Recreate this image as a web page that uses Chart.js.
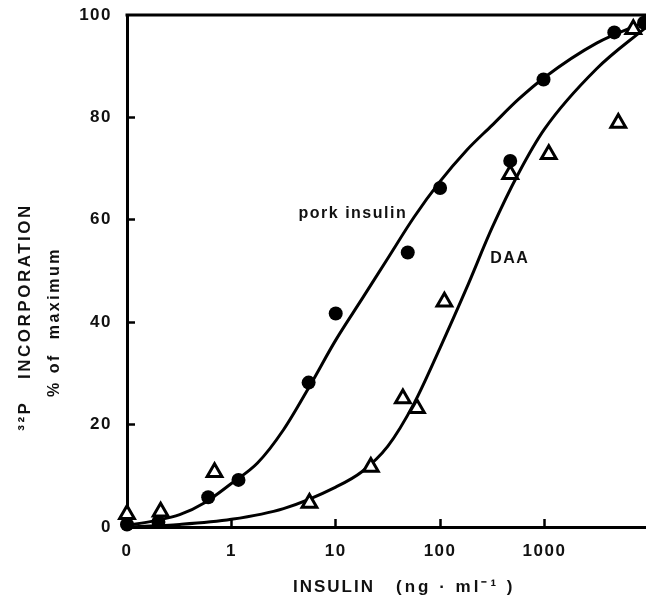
<!DOCTYPE html>
<html>
<head>
<meta charset="utf-8">
<script src="https://cdn.jsdelivr.net/npm/chart.js@4.4.1/dist/chart.umd.min.js"></script>
<style>
    html, body { margin: 0; padding: 0; background: #fff; overflow: hidden; }
    #wrap { width: 646px; height: 597px; position: relative; }
</style>
</head>
<body>
<div id="wrap"><canvas id="chart_insulin"></canvas></div>
<script>
// measured points (x in ng/ml, 0 plotted at 0.1)
var porkX = [0.1, 0.2, 0.6, 1.17, 5.5, 10, 49, 100, 470, 980, 4670, 9000];
var porkY = [0.5, 1.0, 5.8, 9.2, 28.2, 41.7, 53.6, 66.2, 71.5, 87.4, 96.6, 98.5];

var daaX = [0.1, 0.21, 0.69, 5.6, 21.7, 44, 60, 110, 470, 1100, 5100, 7100];
var daaY = [2.5, 3.0, 10.7, 4.7, 11.7, 25.1, 23.2, 44.0, 68.9, 72.8, 78.9, 97.2];

// fitted curves as drawn in the figure, read at quarter decades
var porkCurveX = [0.1, 0.18, 0.32, 0.56, 1, 1.78, 3.16, 5.62, 10, 17.8, 31.6, 56.2, 100, 178, 316, 562, 1000, 3162, 9400];
var porkCurveY = [0.3, 1.2, 2.4, 4.8, 8.5, 12.5, 19.0, 27.5, 36.5, 44.5, 52.5, 60.5, 67.5, 73.5, 78.5, 83.5, 87.8, 94.5, 98.7];

var daaCurveX = [0.1, 0.32, 1, 3.16, 10, 17.8, 31.6, 56.2, 100, 178, 316, 562, 1000, 3162, 9400];
var daaCurveY = [0.0, 0.5, 1.5, 3.6, 7.8, 10.8, 15.8, 24.1, 35.0, 46.5, 58.5, 69.0, 77.7, 89.5, 97.6];

var xTicks = [0.1, 1, 10, 100, 1000];
var xTickLabels = ['0', '1', '10', '100', '1000'];
var yTicks = [0, 20, 40, 60, 80, 100];

function toPoints(xs, ys) {
    return xs.map(function (x, i) { return { x: x, y: ys[i] }; });
}

var fontFamily = "'Liberation Sans', Arial, sans-serif";

var textPlugin = {
    id: 'figureText',
    beforeDraw: function (chart) {
        // wider letter spacing, like the typeset figure
        chart.ctx.letterSpacing = '1.5px';
    },
    afterDraw: function (chart) {
        var ctx = chart.ctx;
        var area = chart.chartArea;
        var xs = chart.scales.x, ys = chart.scales.y;
        ctx.save();
        // top frame line
        ctx.strokeStyle = '#000';
        ctx.lineWidth = 3;
        ctx.beginPath();
        ctx.moveTo(area.left - 1.5, area.top);
        ctx.lineTo(area.right, area.top);
        ctx.stroke();

        ctx.fillStyle = '#111';
        ctx.textBaseline = 'middle';

        // curve labels
        ctx.letterSpacing = '1.5px';
        ctx.font = 'bold 16px ' + fontFamily;
        ctx.textAlign = 'center';
        ctx.fillText('pork insulin', xs.getPixelForValue(14.6), ys.getPixelForValue(61.3));
        ctx.fillText('DAA', xs.getPixelForValue(466), ys.getPixelForValue(52.5));

        // x title
        ctx.letterSpacing = '2px';
        ctx.font = 'bold 17px ' + fontFamily;
        ctx.textAlign = 'left';
        ctx.fillText('INSULIN', 293, 587);
        ctx.letterSpacing = '3px';
        ctx.fillText('(ng \u00b7 ml\u207b\u00b9 )', 396, 587);

        // y title
        ctx.translate(25, 317);
        ctx.rotate(-Math.PI / 2);
        ctx.textAlign = 'center';
        ctx.letterSpacing = '2.5px';
        ctx.font = 'bold 17px ' + fontFamily;
        ctx.fillText('\u00b3\u00b2P   INCORPORATION', 0, 0);
        ctx.letterSpacing = '2.5px';
        ctx.font = 'bold 16px ' + fontFamily;
        ctx.fillText('% of  maximum', -5, 30);
        ctx.restore();
    }
};

var ctx = document.getElementById('chart_insulin').getContext('2d');
var insulinChart = new Chart(ctx, {
    type: 'scatter',
    data: {
        datasets: [
            {
                label: 'pork insulin',
                data: toPoints(porkX, porkY),
                pointStyle: 'circle',
                pointRadius: 7,
                backgroundColor: '#000',
                borderColor: '#000',
                borderWidth: 0,
                clip: false
            },
            {
                label: 'DAA',
                data: toPoints(daaX, daaY),
                pointStyle: 'triangle',
                pointRadius: 8.5,
                backgroundColor: '#fff',
                borderColor: '#000',
                borderWidth: 3,
                clip: false
            },
            {
                label: 'pork insulin fit',
                type: 'line',
                data: toPoints(porkCurveX, porkCurveY),
                borderColor: '#000',
                borderWidth: 3,
                pointRadius: 0,
                cubicInterpolationMode: 'monotone',
                fill: false
            },
            {
                label: 'DAA fit',
                type: 'line',
                data: toPoints(daaCurveX, daaCurveY),
                borderColor: '#000',
                borderWidth: 3,
                pointRadius: 0,
                cubicInterpolationMode: 'monotone',
                fill: false
            }
        ]
    },
    options: {
        responsive: true,
        maintainAspectRatio: false,
        animation: false,
        layout: {
            autoPadding: false,
            padding: { top: 15, right: 0, left: 0, bottom: 0 }
        },
        plugins: {
            legend: { display: false },
            tooltip: { enabled: false }
        },
        scales: {
            x: {
                type: 'logarithmic',
                min: 0.1,
                max: 9400,
                afterFit: function (scale) {
                    scale.height = 70;
                    scale.paddingLeft = 0;
                    scale.paddingRight = 0;
                },
                afterBuildTicks: function (scale) {
                    scale.ticks = xTicks.map(function (v) { return { value: v }; });
                },
                border: { display: true, color: '#000', width: 3 },
                grid: {
                    drawOnChartArea: false,
                    drawTicks: true,
                    tickLength: -8,
                    tickWidth: 2.5,
                    tickColor: function (c) {
                        return c.tick && c.tick.value === 0.1 ? 'rgba(0,0,0,0)' : '#000';
                    }
                },
                ticks: {
                    autoSkip: false,
                    maxRotation: 0,
                    padding: 22,
                    color: '#111',
                    font: { family: fontFamily, size: 17, weight: 'bold' },
                    callback: function (value) {
                        var i = xTicks.indexOf(value);
                        return i >= 0 ? xTickLabels[i] : '';
                    }
                }
            },
            y: {
                min: 0,
                max: 100,
                afterFit: function (scale) {
                    scale.width = 127;
                    scale.paddingTop = 0;
                    scale.paddingBottom = 0;
                },
                afterBuildTicks: function (scale) {
                    scale.ticks = yTicks.map(function (v) { return { value: v }; });
                },
                border: { display: true, color: '#000', width: 3 },
                grid: {
                    drawOnChartArea: false,
                    drawTicks: true,
                    tickLength: -8,
                    tickWidth: 2.5,
                    tickColor: function (c) {
                        return c.tick && (c.tick.value === 0 || c.tick.value === 100) ? 'rgba(0,0,0,0)' : '#000';
                    }
                },
                ticks: {
                    padding: 23,
                    color: '#111',
                    font: { family: fontFamily, size: 17, weight: 'bold' }
                }
            }
        }
    },
    plugins: [textPlugin]
});
</script>
</body>
</html>
